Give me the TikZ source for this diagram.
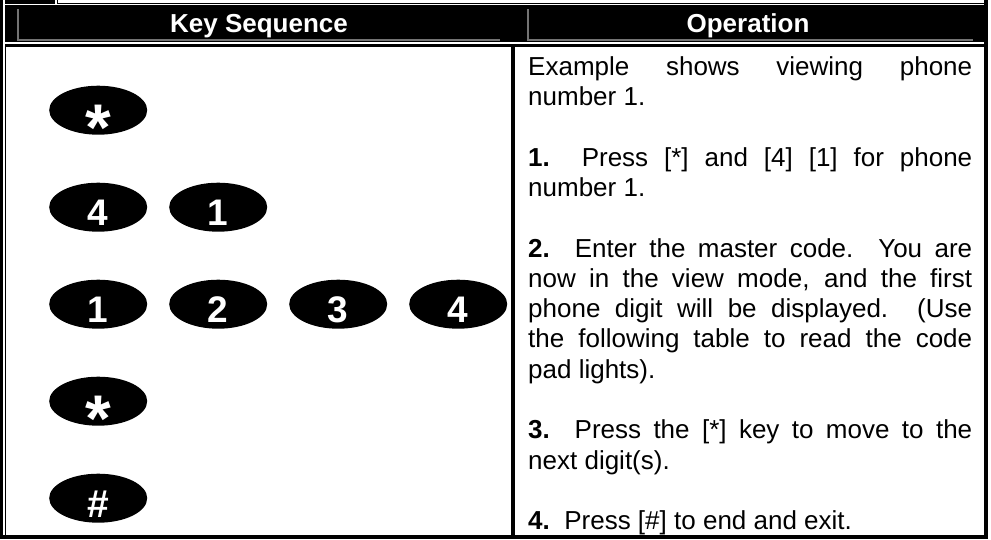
\documentclass[tikz,border=0pt]{standalone}
\usepackage{fontspec}
\newfontfamily\arial{Liberation Sans}
\usetikzlibrary{shapes.geometric}
\tikzset{
  key/.style={
    % The shape:
    shape=ellipse,
    % The size:
    minimum width=98pt,minimum height=49pt,inner sep=0pt,
    % The filling:
    fill=black,
    % The text, set a little low in the key:
    text=white,font=\arial\bfseries\fontsize{37}{37}\selectfont,
    text height=0pt,text depth=0pt,
    execute at begin node={\lower#1\hbox\bgroup},
    execute at end node={\egroup}},
  key/.default=18.3pt,
  starkey/.style={key=40pt,font=\arial\bfseries\fontsize{66}{66}\selectfont},
  hashkey/.style={key=19.6pt,font=\arial\bfseries\fontsize{39}{39}\selectfont}}
\tikzset{
	head/.style={
		% The text:
		anchor=base,inner sep=0pt,
		text=white,font=\arial\bfseries\fontsize{26}{30}\selectfont},
	op/.style={
		% The place:
		anchor=north west,inner sep=0pt,
		% The text:
		text width=444pt,align=justify,
		font=\arial\fontsize{26}{30.3}\selectfont,
		execute at begin node={\noindent\strut}},
	inset/.style={draw=black!55,line width=1.2pt}}

\begin{document}
\begin{tikzpicture}[x=1pt,y=-1pt]
	\useasboundingbox (0,0) rectangle (991,539);
	% Outer lines
	\fill (0,0) rectangle (3.3,539);
	\fill (983.5,0) rectangle (988,539);
	\fill (0,535) rectangle (988,539);
	% Row above the header
	\fill (4.7,0) rectangle (55,4.3);
	\fill (56.5,0) rectangle (58,4.3);
	\fill (58,3) rectangle (988,4.3);
	% Header row
	\fill (4.7,5.3) rectangle (988,42.3);
	\draw[inset] (18,9.3) -- (18,40) -- (500,40);
	\draw[inset] (528,9.3) -- (528,40) -- (973,40);
	\fill (4.7,44) rectangle (988,46.8);
	\node[head] (keyhead) at (259,32.5) {Key Sequence};
	\node[head] (ophead) at (748,32.5) {Operation};
	% Body lines
	\fill (4.7,46.8) rectangle (6.3,535);
	\fill (511,46.8) rectangle (515,535);
	% The keys
	\matrix[column sep=22pt,row sep=48pt,inner sep=0pt,anchor=north west] (keys) at (49,85.5) {
		\node[starkey] (star1) {*}; & & & \\
		\node[key] (four) {4}; & \node[key] (one) {1}; & & \\
		\node[key] (d1) {1}; & \node[key] (d2) {2}; & \node[key] (d3) {3}; & \node[key] (d4) {4}; \\
		\node[starkey] (star2) {*}; & & & \\
		\node[hashkey] (hash) {\#}; & & & \\
	};
	% The operations
	\node[op] (intro) at (528,53.8) {Example shows viewing phone\linebreak number 1.};
	\node[op] (stepone) at (528,144.7) {\textbf{1.}\ \ Press [*] and [4] [1] for phone\linebreak number 1.};
	\node[op] (steptwo) at (528,235.6) {\textbf{2.}\ \ Enter the master code.\ \ You are\linebreak now in the view mode, and the first\linebreak phone digit will be displayed.\ \ (Use\linebreak the following table to read the code\linebreak pad lights).};
	\node[op] (stepthree) at (528,417.4) {\textbf{3.}\ \ Press the [*] key to move to the\linebreak next digit(s).};
	\node[op] (stepfour) at (528,508.3) {\textbf{4.}\ \ Press [\#] to end and exit.};
\end{tikzpicture}
\end{document}
